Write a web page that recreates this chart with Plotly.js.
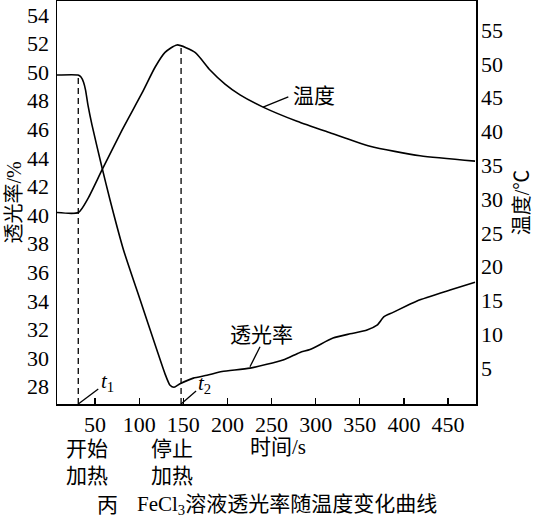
<!DOCTYPE html>
<html>
<head>
<meta charset="utf-8">
<script src="https://cdn.plot.ly/plotly-3.0.1.min.js"></script>
<style>html,body{margin:0;padding:0;background:#fff;}</style>
</head>
<body>
<div id="chart" style="width:536px;height:518px;"></div>
<script>
// ---- data ----
const timeTrans = [6.9, 30.7, 34.1, 37, 39.2, 42, 46.6, 57.6, 67, 82.1, 101, 119.9, 129.3, 135, 139.5, 146.3, 161.4, 176.9, 193.9, 225.6, 263, 282.3, 293.6, 319.7, 339, 358.2, 369.5, 377.5, 387.7, 414.9, 452.3, 480.6];
const transmittance = [49.8, 49.8, 49.67, 49.3, 48.76, 47.7, 46.3, 43.4, 41.06, 37.6, 34.1, 30.6, 28.9, 28.1, 27.96, 28.2, 28.6, 28.8, 29.06, 29.3, 29.87, 30.4, 30.6, 31.4, 31.7, 31.96, 32.3, 32.9, 33.2, 34.0, 34.76, 35.3];
const timeTemp = [6.9, 31.1, 42.1, 57.9, 80.6, 103.3, 118, 129.3, 142.9, 163.3, 180.3, 197.3, 214.3, 240.4, 278.9, 316.3, 361.6, 418.3, 480.6];
const temperature = [28.0, 28.0, 30.1, 34.3, 40.2, 45.7, 49.5, 51.7, 52.8, 51.7, 49.1, 47.0, 45.4, 43.6, 41.5, 39.8, 37.8, 36.4, 35.6];
const xTicks = [50, 100, 150, 200, 250, 300, 350, 400, 450];
const leftTicks = [28, 30, 32, 34, 36, 38, 40, 42, 44, 46, 48, 50, 52, 54];
const rightTicks = [5, 10, 15, 20, 25, 30, 35, 40, 45, 50, 55];
const t1 = 31, t2 = 147.5;
const t1Level = 49.8;   // transmittance at t1 (left axis)
const t2Level = 52.8;   // peak temperature at t2 (right axis)

const serif = '"Liberation Serif", "Times New Roman", serif';
const cjk = '"Liberation Serif", "Noto Sans CJK SC", sans-serif';

const traces = [
  {x: timeTrans, y: transmittance, type: 'scatter', mode: 'lines', name: '透光率',
   line: {color: '#000', width: 1.6, shape: 'spline', smoothing: 0.6}, yaxis: 'y', showlegend: false},
  {x: timeTemp, y: temperature, type: 'scatter', mode: 'lines', name: '温度',
   line: {color: '#000', width: 1.6, shape: 'spline', smoothing: 0.6}, yaxis: 'y2', showlegend: false}
];

const layout = {
  width: 536, height: 518,
  margin: {l: 57, r: 60, t: 1, b: 114},
  paper_bgcolor: '#fff', plot_bgcolor: '#fff',
  font: {family: serif, size: 22, color: '#000'},
  showlegend: false,
  xaxis: {
    range: [6.9, 481.7], tickvals: xTicks, ticktext: xTicks.map(String),
    ticks: 'inside', ticklen: 6, tickwidth: 1.2, tickcolor: '#000',
    showline: true, linecolor: '#000', linewidth: 1.5, mirror: true,
    showgrid: false, zeroline: false,
    tickfont: {family: serif, size: 22, color: '#000'}
  },
  yaxis: {
    range: [26.79, 54.98], tickvals: leftTicks, ticktext: leftTicks.map(String),
    ticks: '', showline: true, linecolor: '#000', linewidth: 1.5, mirror: true,
    showgrid: false, zeroline: false, ticklabelstandoff: 2,
    tickfont: {family: serif, size: 22, color: '#000'},
    title: {text: '透光率/%', font: {family: cjk, size: 20, color: '#000'}, standoff: 0}
  },
  yaxis2: {
    range: [-0.33, 59.3], tickvals: rightTicks, ticktext: rightTicks.map(String),
    overlaying: 'y', side: 'right', ticks: '', showline: false,
    showgrid: false, zeroline: false, ticklabelstandoff: 4,
    tickfont: {family: serif, size: 22, color: '#000'},
    title: {text: '温度/℃', font: {family: cjk, size: 20, color: '#000'}, standoff: 12}
  },
  shapes: [
    {type: 'line', xref: 'x', yref: 'y', x0: t1, x1: t1, y0: 26.79, y1: t1Level,
     line: {color: '#000', width: 1.3, dash: '6px,4px'}},
    {type: 'line', xref: 'x', yref: 'y2', x0: t2, x1: t2, y0: -0.33, y1: t2Level,
     line: {color: '#000', width: 1.3, dash: '6px,4px'}},
    {type: 'line', xref: 'x', xsizemode: 'pixel', xanchor: t1, x0: 0, x1: 20,
     yref: 'paper', ysizemode: 'pixel', yanchor: 0, y0: 0, y1: 15, line: {color: '#000', width: 1.3}},
    {type: 'line', xref: 'x', xsizemode: 'pixel', xanchor: t2, x0: 0, x1: 15,
     yref: 'paper', ysizemode: 'pixel', yanchor: 0, y0: 0, y1: 13, line: {color: '#000', width: 1.3}},
    {type: 'line', xref: 'x', yref: 'y2', x0: 240.4, y0: 43.6, x1: 269, y1: 45.1, line: {color: '#000', width: 1.3}},
    {type: 'line', xref: 'x', yref: 'y', x0: 225.6, y0: 29.4, x1: 237, y1: 30.8, line: {color: '#000', width: 1.3}}
  ],
  annotations: [
    {xref: 'x', yref: 'y2', x: 298, y: 45.2, text: '温度', showarrow: false,
     xanchor: 'center', yanchor: 'middle', font: {family: cjk, size: 21, color: '#000'}},
    {xref: 'x', yref: 'y', x: 239, y: 31.6, text: '透光率', showarrow: false,
     xanchor: 'center', yanchor: 'middle', font: {family: cjk, size: 21, color: '#000'}},
    {xref: 'x', yref: 'paper', x: t1, y: 0, xshift: 21, yshift: 7, text: '<i>t</i><sub>1</sub>', showarrow: false,
     xanchor: 'left', yanchor: 'bottom', font: {family: serif, size: 21, color: '#000'}},
    {xref: 'x', yref: 'paper', x: t2, y: 0, xshift: 15, yshift: 5, text: '<i>t</i><sub>2</sub>', showarrow: false,
     xanchor: 'left', yanchor: 'bottom', font: {family: serif, size: 21, color: '#000'}},
    {xref: 'paper', yref: 'paper', x: (86.7 - 57) / 419, y: -0.107, text: '开始<br>加热', showarrow: false,
     xanchor: 'center', yanchor: 'top', yshift: 12, font: {family: cjk, size: 21, color: '#000'}},
    {xref: 'paper', yref: 'paper', x: (171.7 - 57) / 419, y: -0.107, text: '停止<br>加热', showarrow: false,
     xanchor: 'center', yanchor: 'top', yshift: 12, font: {family: cjk, size: 21, color: '#000'}},
    {xref: 'paper', yref: 'paper', x: (278 - 57) / 419, y: -0.107, text: '时间/s', showarrow: false,
     xanchor: 'center', yanchor: 'middle', font: {family: cjk, size: 21, color: '#000'}},
    {xref: 'paper', yref: 'paper', x: (107 - 57) / 419, y: (404 - 505) / 403, text: '丙', showarrow: false,
     xanchor: 'center', yanchor: 'middle', font: {family: cjk, size: 21, color: '#000'}},
    {xref: 'paper', yref: 'paper', x: (135 - 57) / 419, y: (404 - 505) / 403, text: 'FeCl<sub>3</sub>溶液透光率随温度变化曲线', showarrow: false,
     xanchor: 'left', yanchor: 'middle', font: {family: cjk, size: 21, color: '#000'}}
  ]
};

Plotly.newPlot('chart', traces, layout, {displayModeBar: false, staticPlot: true});
</script>
</body>
</html>
